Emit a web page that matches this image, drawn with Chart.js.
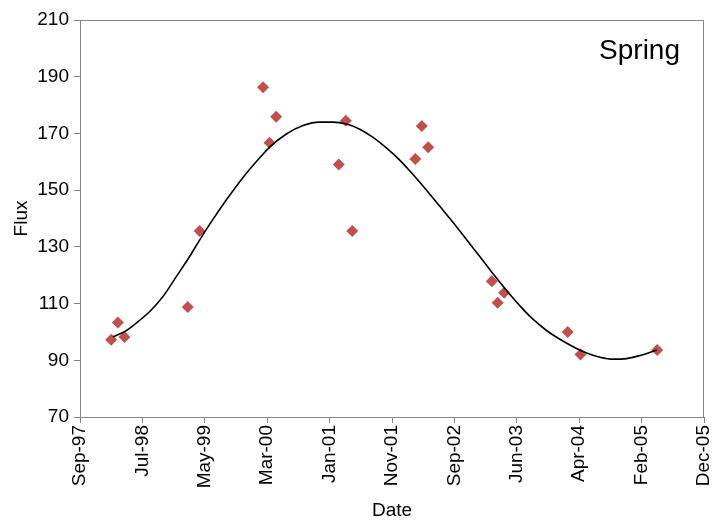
<!DOCTYPE html>
<html>
<head>
<meta charset="utf-8">
<script src="https://cdn.jsdelivr.net/npm/chart.js@4/dist/chart.umd.min.js"></script>
<style>
  html, body { margin: 0; padding: 0; background: #fff; }
  #wrap { width: 716px; height: 525px; }
</style>
</head>
<body>
<div id="wrap"><canvas id="fluxChart"></canvas></div>
<script>
// dates are Excel-style day serials (days since 1899-12-30)
const obsDays = [35850, 35882, 35914, 36218, 36275, 36580, 36611, 36643, 36944, 36978,
                 37009, 37312, 37343, 37374, 37680, 37708, 37739, 38045, 38106, 38475];
const obsFlux = [97.2, 103.3, 98.2, 108.8, 135.6, 186.3, 166.7, 175.9, 159.0, 174.5,
                 135.6, 161.0, 172.6, 165.1, 117.9, 110.3, 113.8, 100.0, 92.0, 93.6];

// fitted curve
const fitDays = [35858, 35914, 35970, 36034, 36098, 36163, 36227, 36275, 36331, 36404,
                 36483, 36564, 36612, 36692, 36772, 36852, 36917, 36981, 37045, 37109,
                 37173, 37237, 37301, 37366, 37430, 37494, 37558, 37622, 37686, 37751,
                 37815, 37879, 37943, 38007, 38071, 38136, 38200, 38264, 38328, 38392, 38473];
const fitFlux = [98.3, 100.1, 103.1, 107.1, 112.4, 119.5, 126.6, 132.4, 138.8, 146.6,
                 154.4, 161.4, 165.2, 169.8, 172.8, 174.0, 174.0, 173.3, 171.5, 168.6,
                 164.9, 160.6, 155.5, 150.0, 144.3, 138.6, 132.6, 126.6, 120.5, 114.6,
                 109.2, 104.4, 100.5, 97.4, 94.8, 92.6, 91.1, 90.4, 90.6, 91.7, 93.6];

const xTickDays = [35700, 36000, 36300, 36600, 36900, 37200, 37500, 37800, 38100, 38400, 38700];
const xTickLabels = ['Sep-97', 'Jul-98', 'May-99', 'Mar-00', 'Jan-01', 'Nov-01',
                     'Sep-02', 'Jun-03', 'Apr-04', 'Feb-05', 'Dec-05'];
const yTickValues = [70, 90, 110, 130, 150, 170, 190, 210];

const axisGrey = '#868686';
const fontFamily = '"Liberation Sans", Arial, sans-serif';

const frameAndLabel = {
    id: 'frameAndLabel',
    afterDraw(chart) {
        const { ctx, chartArea: a } = chart;
        ctx.save();
        ctx.strokeStyle = axisGrey;
        ctx.lineWidth = 1;
        ctx.beginPath();
        ctx.moveTo(a.left, a.top + 0.5);
        ctx.lineTo(a.right - 0.5, a.top + 0.5);
        ctx.lineTo(a.right - 0.5, a.bottom);
        ctx.stroke();
        ctx.fillStyle = '#000';
        ctx.font = '28px ' + fontFamily;
        ctx.textAlign = 'right';
        ctx.textBaseline = 'alphabetic';
        ctx.fillText('Spring', a.right - 24, a.top + 39);
        ctx.restore();
    }
};

new Chart(document.getElementById('fluxChart'), {
    type: 'scatter',
    data: {
        datasets: [
            {
                type: 'line',
                label: 'Fit',
                data: fitDays.map((d, i) => ({ x: d, y: fitFlux[i] })),
                borderColor: '#000',
                borderWidth: 1.6,
                pointRadius: 0,
                cubicInterpolationMode: 'monotone',
                fill: false,
                order: 0
            },
            {
                label: 'Spring',
                data: obsDays.map((d, i) => ({ x: d, y: obsFlux[i] })),
                pointStyle: 'rectRot',
                pointRadius: 6,
                pointBackgroundColor: '#C0504D',
                pointBorderColor: '#C0504D',
                pointBorderWidth: 0,
                order: 1
            }
        ]
    },
    plugins: [frameAndLabel],
    options: {
        responsive: true,
        maintainAspectRatio: false,
        animation: false,
        layout: { padding: { top: 20, right: 12, left: 0, bottom: 0 } },
        plugins: { legend: { display: false }, tooltip: { enabled: false } },
        scales: {
            x: {
                type: 'linear',
                min: 35700,
                max: 38700,
                afterBuildTicks: s => { s.ticks = xTickDays.map(v => ({ value: v })); },
                afterFit: s => { s.height = 108; s.paddingLeft = 0; s.paddingRight = 0; },
                border: { color: axisGrey, width: 1 },
                grid: { drawOnChartArea: false, drawTicks: true, tickLength: 6, color: axisGrey },
                ticks: {
                    minRotation: 90,
                    maxRotation: 90,
                    color: '#000',
                    padding: 2,
                    font: { family: fontFamily, size: 19 },
                    callback: (v, i) => xTickLabels[i]
                },
                title: {
                    display: true,
                    text: 'Date',
                    color: '#000',
                    font: { family: fontFamily, size: 19 },
                    padding: { top: 0, bottom: 3 }
                }
            },
            y: {
                min: 70,
                max: 210,
                afterBuildTicks: s => { s.ticks = yTickValues.map(v => ({ value: v })); },
                afterFit: s => { s.width = 80; s.paddingTop = 0; s.paddingBottom = 0; },
                border: { color: axisGrey, width: 1 },
                grid: { drawOnChartArea: false, drawTicks: true, tickLength: 6, color: axisGrey },
                ticks: {
                    color: '#000',
                    padding: 5,
                    font: { family: fontFamily, size: 19 }
                },
                title: {
                    display: true,
                    text: 'Flux',
                    color: '#000',
                    font: { family: fontFamily, size: 19 },
                    padding: { top: 10, bottom: 0 }
                }
            }
        }
    }
});
</script>
</body>
</html>
